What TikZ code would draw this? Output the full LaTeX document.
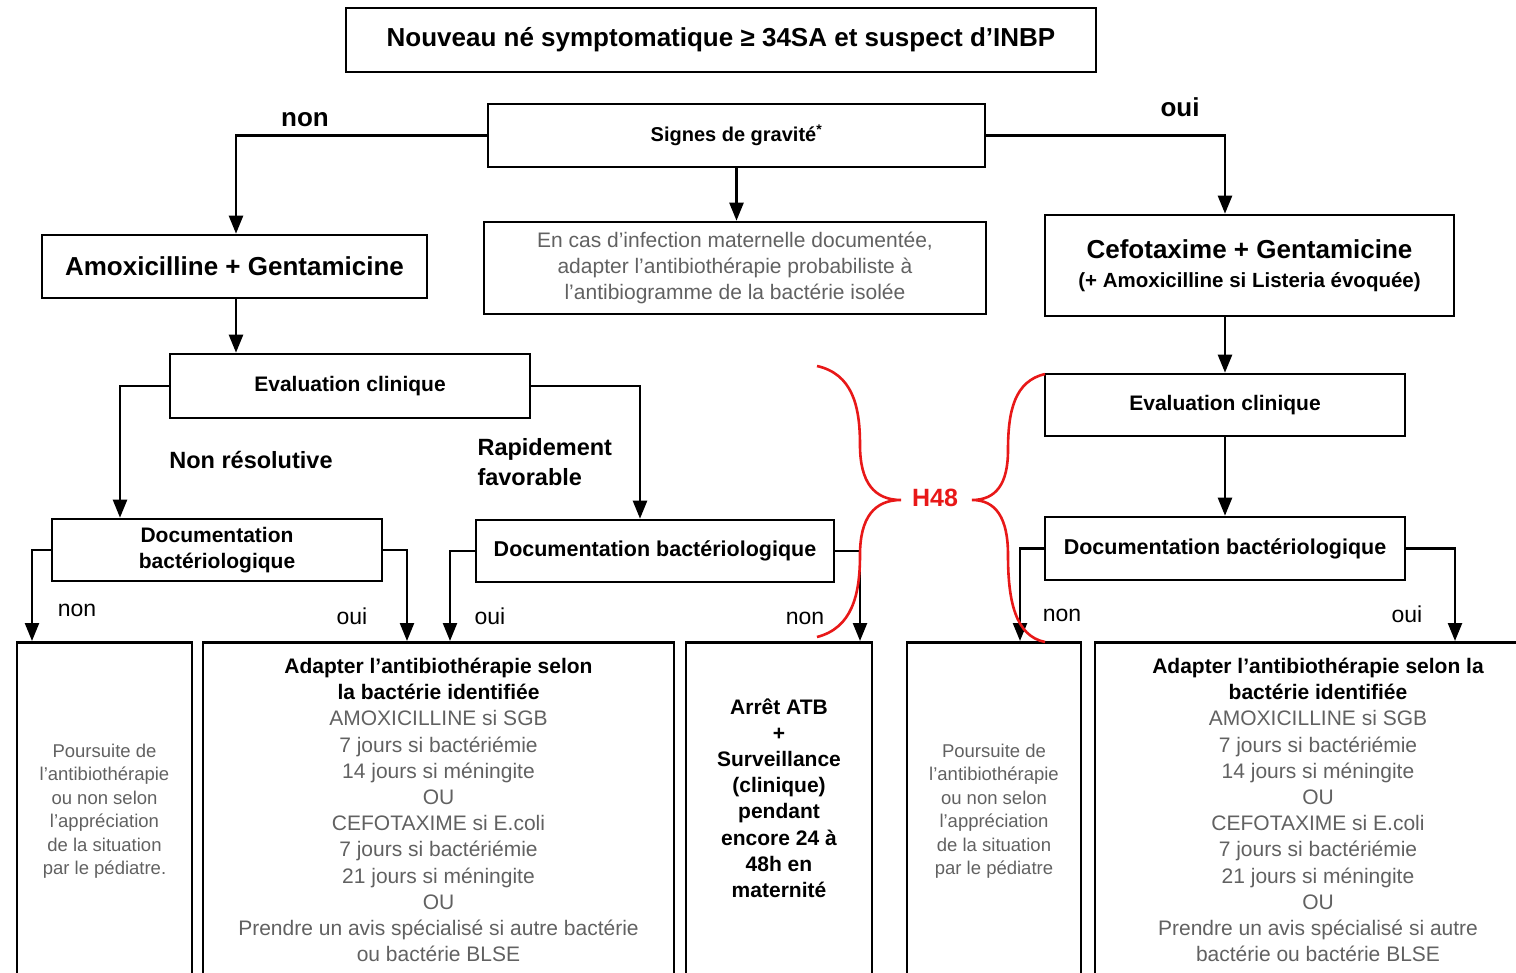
\documentclass[tikz,border=0pt]{standalone}
\usepackage{fontspec}
\setmainfont{Liberation Sans}
\usetikzlibrary{arrows.meta,positioning}
\definecolor{txtgray}{gray}{0.38}
\definecolor{bracered}{RGB}{232,24,24}
\newcommand{\setfs}[2]{\fontsize{#1}{#2}\selectfont}
\tikzset{
  box/.style      = {draw, line width=2.6pt, inner sep=0pt, align=center},
  outcome/.style  = {draw, line width=2.6pt, inner sep=0pt, anchor=north, minimum height=360pt},
  wire/.style     = {line width=2.4pt, -{Triangle[width=14pt,length=18pt]}},
  choice/.style   = {font=\setfs{26}{30}\bfseries},
  smallchoice/.style = {font=\setfs{23}{26}},
  thin/.style     = {text=txtgray, align=center},
  brace/.style    = {bracered, line width=2.6pt}
}

\begin{document}
\begin{tikzpicture}[x=1pt, y=-1pt]
    \path[use as bounding box] (0,0) rectangle (1516,973);
    \clip (0,0) rectangle (1516,973);
    % Top
    \node[box, minimum width=750pt, minimum height=64pt, font=\setfs{26}{30}\bfseries] (start) at (721,40)
      {Nouveau né symptomatique ≥ 34SA et suspect d’INBP};
    \node[box, minimum width=497pt, minimum height=63pt, font=\setfs{20}{24}\bfseries] (signes) at (736.5,135.5)
      {Signes de gravité\textsuperscript{*}};
    \node[box, thin, minimum width=502pt, minimum height=92pt, font=\setfs{21}{26}] (encas) at (735,268)
      {En cas d’infection maternelle documentée,\\adapter l’antibiothérapie probabiliste à\\l’antibiogramme de la bactérie isolée};
    % Treatments
    \node[box, minimum width=385pt, minimum height=63pt, font=\setfs{26}{30}\bfseries] (amox) at (234.5,266.5)
      {Amoxicilline + Gentamicine};
    \node[box, minimum width=409pt, minimum height=101pt, font=\setfs{26}{29}\bfseries] (cefo) at (1249.5,265.5)
      {Cefotaxime + Gentamicine\\{\setfs{20.5}{29}(+ Amoxicilline si Listeria évoquée)}};
    % Clinical evaluation
    \node[box, minimum width=360pt, minimum height=64pt, font=\setfs{21}{25}\bfseries] (evalA) at (350,386)
      {Evaluation clinique};
    \node[box, minimum width=360pt, minimum height=62pt, font=\setfs{21}{25}\bfseries] (evalB) at (1225,405)
      {Evaluation clinique};
    % Bacteriology
    \node[box, minimum width=330pt, minimum height=62pt, font=\setfs{21}{26}\bfseries] (docA) at (217,550)
      {Documentation\\bactériologique};
    \node[box, minimum width=358pt, minimum height=62pt, font=\setfs{21.5}{25}\bfseries] (docB) at (655,551)
      {Documentation bactériologique};
    \node[box, minimum width=360pt, minimum height=63pt, font=\setfs{21.5}{25}\bfseries] (docC) at (1225,548.5)
      {Documentation bactériologique};
    % Outcomes
    \node[outcome, minimum width=175pt] (resA) at (104.5,641) {};
    \node[outcome, minimum width=471pt] (resB) at (438.5,641) {};
    \node[outcome, minimum width=186pt] (resC) at (779,641) {};
    \node[outcome, minimum width=174pt] (resD) at (994,641) {};
    \node[outcome, minimum width=446pt] (resE) at (1318,641) {};
    \node[thin, font=\setfs{18.5}{23.5}] (txtA) at (104.5,811)
      {Poursuite de\\l’antibiothérapie\\ou non selon\\l’appréciation\\de la situation\\par le pédiatre.};
    \node[thin, font=\setfs{21}{26.2}] (txtB) at (438.5,810)
      {\textcolor{black}{\bfseries Adapter l’antibiothérapie selon}\\\textcolor{black}{\bfseries la bactérie identifiée}\\AMOXICILLINE si SGB\\7 jours si bactériémie\\14 jours si méningite\\OU\\CEFOTAXIME si E.coli\\7 jours si bactériémie\\21 jours si méningite\\OU\\Prendre un avis spécialisé si autre bactérie\\ou bactérie BLSE};
    \node[align=center, font=\setfs{21}{26.2}\bfseries] (txtC) at (779,798)
      {Arrêt ATB\\+\\Surveillance\\(clinique)\\pendant\\encore 24 à\\48h en\\maternité};
    \node[thin, font=\setfs{18.5}{23.5}] (txtD) at (994,811)
      {Poursuite de\\l’antibiothérapie\\ou non selon\\l’appréciation\\de la situation\\par le pédiatre};
    \node[thin, font=\setfs{21}{26.2}] (txtE) at (1318,810)
      {\textcolor{black}{\bfseries Adapter l’antibiothérapie selon la}\\\textcolor{black}{\bfseries bactérie identifiée}\\AMOXICILLINE si SGB\\7 jours si bactériémie\\14 jours si méningite\\OU\\CEFOTAXIME si E.coli\\7 jours si bactériémie\\21 jours si méningite\\OU\\Prendre un avis spécialisé si autre\\bactérie ou bactérie BLSE};
    % Wires
    \draw[wire] (signes.west) -| ([xshift=1.5pt]amox.north);
    \draw[wire] (signes.east) -| ([xshift=-24.5pt]cefo.north);
    \draw[wire] (signes.south) -- (signes.south |- encas.north);
    \draw[wire] ([xshift=1.5pt]amox.south) -- ([xshift=1.5pt]amox.south |- evalA.north);
    \draw[wire] (evalA.west) -| ([xshift=-97pt]docA.north);
    \draw[wire] (evalA.east) -| ([xshift=-15pt]docB.north);
    \draw[wire] (docA.west) -| ([xshift=-72.5pt]resA.north);
    \draw[wire] (docA.east) -| ([xshift=-31.5pt]resB.north);
    \draw[wire] (docB.west) -| ([xshift=11.5pt]resB.north);
    \draw[wire] (docB.east) -| ([xshift=81pt]resC.north);
    \draw[wire] (evalB.north |- cefo.south) -- (evalB.north);
    \draw[wire] (evalB.south) -- (docC.north);
    \draw[wire] (docC.west) -| ([xshift=26pt]resD.north);
    \draw[wire] (docC.east) -| ([xshift=137pt]resE.north);
    % Labels
    \node[choice] (lnonA) at (305,120) {non};
    \node[choice] (louiA) at (1180,107) {oui};
    \node[choice, font=\setfs{23.5}{28}\bfseries] (lnonres) at (251,460) {Non résolutive};
    \node[choice, align=left, anchor=west, font=\setfs{23.5}{30}\bfseries] (lrapide) at (474,462) {Rapidement\\favorable};
    \node[smallchoice] (lnonB) at (77,610) {non};
    \node[smallchoice] (louiB) at (352,616) {oui};
    \node[smallchoice] (louiC) at (490,616) {oui};
    \node[smallchoice] (lnonC) at (805,618) {non};
    \node[smallchoice] (lnonD) at (1062,615) {non};
    \node[smallchoice] (louiD) at (1407,614) {oui};
    % H48 braces
    \node[text=bracered, font=\setfs{25}{28}\bfseries] (hq) at (935,498) {H48};
    \draw[brace] (817,366) .. controls (852,374) and (860,405) .. (860,445)
      .. controls (860,482) and (874,500) .. (901,500)
      .. controls (874,500) and (860,518) .. (860,555)
      .. controls (860,595) and (852,628) .. (817,637);
    \draw[brace] (1045,374) .. controls (1015,381) and (1008,410) .. (1008,450)
      .. controls (1008,484) and (996,500) .. (972,500)
      .. controls (996,500) and (1008,518) .. (1008,555)
      .. controls (1008,600) and (1015,636) .. (1045,642);
\end{tikzpicture}
\end{document}
